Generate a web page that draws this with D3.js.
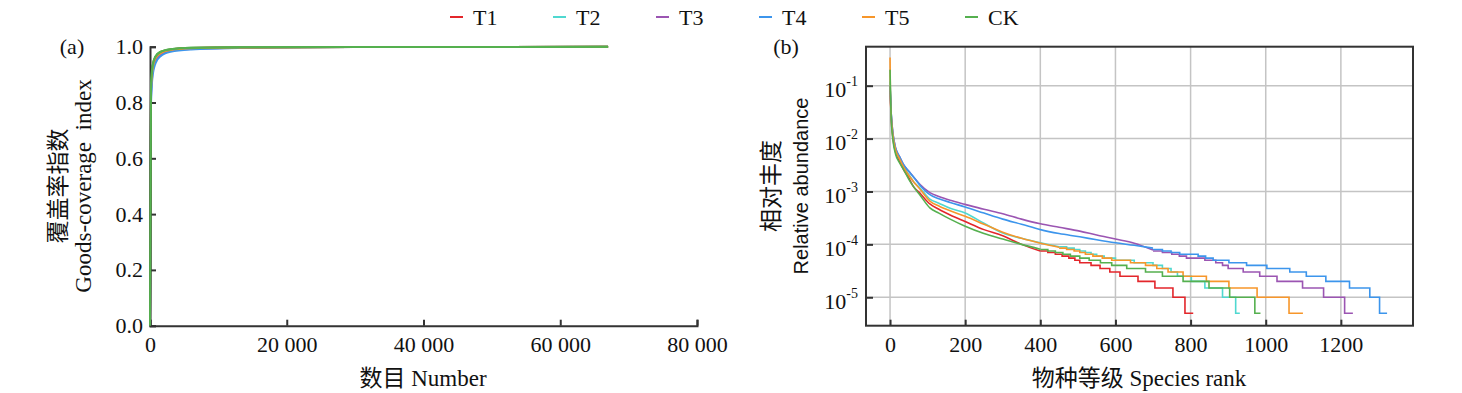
<!DOCTYPE html>
<html>
<head>
<meta charset="utf-8">
<script src="https://cdn.jsdelivr.net/npm/d3@7"></script>
<style>
  body { margin: 0; background: #fff; }
</style>
</head>
<body>
<svg id="chart" width="1462" height="393"></svg>
<script>
const groups = ["T1", "T2", "T3", "T4", "T5", "CK"];
const colors = ["#e3262b", "#4fd8d0", "#9b55b2", "#3c95ec", "#f7962a", "#55b04f"];

// (a) Goods coverage vs. number of sequences
const covN = [0, 150, 400, 800, 1500, 3000, 6000, 13000, 30000, 67000];
const covT1 = [0, 0.86, 0.93, 0.962, 0.979, 0.99, 0.995, 0.998, 0.999, 0.9995];
const covT2 = [0, 0.84, 0.92, 0.955, 0.974, 0.987, 0.993, 0.997, 0.999, 0.9995];
const covT3 = [0, 0.82, 0.91, 0.95, 0.97, 0.985, 0.992, 0.996, 0.999, 0.9995];
const covT4 = [0, 0.8, 0.9, 0.94, 0.965, 0.982, 0.99, 0.995];
const covT5 = [0, 0.85, 0.925, 0.958, 0.976, 0.988, 0.994, 0.997, 0.999, 0.9995];
const covCK = [0, 0.87, 0.935, 0.965, 0.981, 0.991, 0.996, 0.998, 0.999, 0.9995];
const coverage = [covT1, covT2, covT3, covT4, covT5, covCK];
const covTicksX = [0, 20000, 40000, 60000, 80000];
const covTicksY = [0, 0.2, 0.4, 0.6, 0.8, 1.0];

// (b) rank-abundance: smooth head, stepped tail  [rank, relative abundance]
const headT1 = [[0,0.1],[3,0.025],[8,0.0098],[15,0.0055],[25,0.0038],[36,0.0026],[50,0.0018],[62,0.00125],[80,0.00092],[106,0.00058],[130,0.00046],[160,0.00036],[200,0.00027],[250,0.00019],[300,0.000145],[350,0.0001],[400,0.000075]];
const tailT1 = [[400,7.5e-5],[420,7e-5],[440,6.5e-5],[458,6e-5],[476,5.5e-5],[492,5e-5],[505,4.5e-5],[535,4e-5],[559,3.5e-5],[585,3e-5],[612,2.5e-5],[660,2e-5],[705,1.5e-5],[753,1e-5],[785,5e-6],[807,5e-6]];
const headT2 = [[0,0.12],[3,0.03],[8,0.011],[15,0.006],[25,0.0042],[36,0.003],[50,0.0021],[62,0.00155],[80,0.00115],[106,0.00072],[130,0.0006],[160,0.00048],[200,0.00039],[250,0.00025],[300,0.000164],[350,0.00013],[400,0.000107],[450,0.00009]];
const tailT2 = [[450,9e-5],[470,8.5e-5],[490,8e-5],[505,7.5e-5],[520,7e-5],[535,6.5e-5],[550,6e-5],[570,5.5e-5],[600,5e-5],[650,4.5e-5],[700,4e-5],[725,3.5e-5],[748,3e-5],[765,2.5e-5],[802,2e-5],[838,1.5e-5],[885,1e-5],[920,5e-6],[931,5e-6]];
const headT3 = [[0,0.08],[3,0.03],[8,0.012],[15,0.0066],[25,0.0046],[36,0.0032],[50,0.0024],[62,0.0019],[80,0.00135],[106,0.00095],[130,0.0008],[160,0.00068],[200,0.00057],[250,0.00046],[300,0.00038],[350,0.0003],[400,0.000245],[450,0.00021],[505,0.000178],[550,0.00015],[600,0.000126],[650,0.000105],[700,0.000078]];
const tailT3 = [[700,7.5e-5],[725,7e-5],[750,6.5e-5],[770,6e-5],[789,5.5e-5],[838,5e-5],[867,4.5e-5],[885,4e-5],[900,3.5e-5],[940,3e-5],[984,2.5e-5],[1030,2e-5],[1098,1.5e-5],[1154,1e-5],[1210,5e-6],[1232,5e-6]];
const headT4 = [[0,0.1],[3,0.03],[8,0.012],[15,0.0066],[25,0.0046],[36,0.0032],[50,0.0024],[62,0.0019],[80,0.0013],[106,0.00087],[130,0.00073],[160,0.00062],[200,0.00051],[250,0.00039],[300,0.0003],[350,0.00024],[400,0.00019],[450,0.00016],[505,0.000139],[550,0.000122],[600,0.000107],[650,0.000096],[700,0.000085]];
const tailT4 = [[700,8e-5],[725,7.5e-5],[748,7e-5],[771,6.5e-5],[820,6e-5],[840,5.5e-5],[860,5e-5],[902,4.5e-5],[949,4e-5],[1003,3.5e-5],[1064,3e-5],[1108,2.5e-5],[1160,2e-5],[1223,1.5e-5],[1277,1e-5],[1303,5e-6],[1323,5e-6]];
const headT5 = [[0,0.34],[1,0.06],[3,0.028],[8,0.011],[15,0.006],[25,0.0042],[36,0.0029],[50,0.002],[62,0.00155],[80,0.0011],[106,0.00066],[130,0.00053],[160,0.00043],[200,0.00034],[250,0.00024],[300,0.00017],[350,0.00013],[400,0.000105],[450,0.000088]];
const tailT5 = [[450,8.5e-5],[470,8e-5],[490,7.5e-5],[505,7e-5],[520,6.5e-5],[540,6e-5],[565,5.5e-5],[590,5e-5],[640,4.5e-5],[680,4e-5],[710,3.5e-5],[740,3e-5],[780,2.5e-5],[842,2e-5],[902,1.5e-5],[977,1e-5],[1062,5e-6],[1099,5e-6]];
const headCK = [[0,0.2],[3,0.025],[8,0.009],[15,0.005],[25,0.0035],[36,0.0026],[50,0.0017],[62,0.00125],[80,0.00085],[106,0.00049],[130,0.00039],[160,0.0003],[200,0.00022],[250,0.00016],[300,0.000126],[350,0.0001],[400,0.000081]];
const tailCK = [[400,8e-5],[420,7.5e-5],[440,7e-5],[460,6.5e-5],[480,6e-5],[505,5.5e-5],[530,5e-5],[560,4.5e-5],[590,4e-5],[630,3.5e-5],[680,3e-5],[725,2.5e-5],[780,2e-5],[849,1.5e-5],[904,1e-5],[971,5e-6],[986,5e-6]];
const heads = [headT1, headT2, headT3, headT4, headT5, headCK];
const tails = [tailT1, tailT2, tailT3, tailT4, tailT5, tailCK];
const rankTicks = [0, 200, 400, 600, 800, 1000, 1200];
const abTicks = [1e-1, 1e-2, 1e-3, 1e-4, 1e-5];

const svg = d3.select("#chart");
const AXIS = "#333";
const FS = 22;
const SERIF = '"Liberation Serif", "Times New Roman", "Noto Sans CJK SC", serif';
const SANS = '"Liberation Sans", Arial, sans-serif';

function label(sel, x, y, txt, size, opts = {}) {
	const t = sel.append("text")
		.attr("transform", `translate(${x}, ${y})` + (opts.rotate ? " rotate(-90)" : ""))
		.attr("text-anchor", opts.anchor || "middle")
		.style("font-family", opts.family || SERIF)
		.style("font-size", size + "px")
		.style("fill", "#111")
		.style("white-space", "pre")
		.text(txt);
	return t;
}
function styleAxis(ax) {
	ax.selectAll(".domain").attr("stroke", AXIS).attr("stroke-width", 2);
	ax.selectAll(".tick line").attr("stroke", AXIS).attr("stroke-width", 2);
	ax.selectAll("text").style("font-family", SERIF).style("font-size", FS + "px").style("fill", "#111");
}

// ---------- panel (a) ----------
const xa = d3.scaleLinear().domain([0, 80000]).range([150, 697]);
const ya = d3.scaleLinear().domain([0, 1]).range([325.7, 46.7]);
const ga = svg.append("g");

const lineA = d3.line().x(d => xa(d[0])).y(d => ya(d[1])).curve(d3.curveMonotoneX);
coverage.forEach((vals, i) => {
	ga.append("path")
		.datum(vals.map((v, j) => [covN[j], v]))
		.attr("fill", "none")
		.attr("stroke", colors[i])
		.attr("stroke-width", 2)
		.attr("d", lineA);
});

const axA_x = ga.append("g")
	.attr("transform", `translate(0, ${ya(0)})`)
	.call(d3.axisBottom(xa).tickValues(covTicksX).tickSize(-6).tickPadding(11)
		.tickFormat(d => d === 0 ? "0" : d3.format(",")(d).replace(",", " ")));
const axA_y = ga.append("g")
	.attr("transform", `translate(${xa(0)}, 0)`)
	.call(d3.axisLeft(ya).tickValues(covTicksY).tickSize(-6).tickPadding(7).tickFormat(d3.format(".1f")));
styleAxis(axA_x);
styleAxis(axA_y);
// green curve sits over the y axis in the original
ga.append("path")
	.datum(covCK.map((v, j) => [covN[j], v]))
	.attr("fill", "none").attr("stroke", colors[5]).attr("stroke-width", 2).attr("d", lineA);

label(ga, 72, 54, "(a)", FS);
label(ga, 423, 386, "数目 Number", 23);
label(ga, 66, 186, "覆盖率指数", 23, { rotate: true });
label(ga, 91, 186, "Goods-coverage  index", 23, { rotate: true });

// ---------- panel (b) ----------
const xb = d3.scaleLinear().domain([-64, 1392]).range([866, 1413]);
const yb = d3.scaleLog().domain([2.9e-6, 0.546]).range([325.7, 46.7]);
const gb = svg.append("g");

gb.append("g").selectAll("line").data(rankTicks).join("line")
	.attr("x1", d => xb(d)).attr("x2", d => xb(d)).attr("y1", yb.range()[1]).attr("y2", yb.range()[0])
	.attr("stroke", "#c4c4c4").attr("stroke-width", 1.5);
gb.append("g").selectAll("line").data(abTicks).join("line")
	.attr("x1", xb.range()[0]).attr("x2", xb.range()[1]).attr("y1", d => yb(d)).attr("y2", d => yb(d))
	.attr("stroke", "#c4c4c4").attr("stroke-width", 1.5);

const lineHead = d3.line().x(d => xb(d[0])).y(d => yb(d[1])).curve(d3.curveMonotoneX);
const lineTail = d3.line().x(d => xb(d[0])).y(d => yb(d[1])).curve(d3.curveStepAfter);
groups.forEach((g, i) => {
	gb.append("path").datum(heads[i]).attr("fill", "none").attr("stroke", colors[i])
		.attr("stroke-width", 1.6).attr("d", lineHead);
	gb.append("path").datum(tails[i]).attr("fill", "none").attr("stroke", colors[i])
		.attr("stroke-width", 1.6).attr("d", lineTail);
});

const axB_x = gb.append("g")
	.attr("transform", `translate(0, ${yb.range()[0]})`)
	.call(d3.axisBottom(xb).tickValues(rankTicks).tickSize(-6).tickPadding(11).tickFormat(d3.format("d")));
const axB_y = gb.append("g")
	.attr("transform", `translate(${xb.range()[0]}, 0)`)
	.call(d3.axisLeft(yb).tickValues(abTicks).tickSize(-7).tickPadding(8).tickFormat(""));
styleAxis(axB_x);
styleAxis(axB_y);
axB_x.select(".domain").remove();
axB_y.select(".domain").remove();
// power-of-ten labels with superscript
axB_y.selectAll(".tick").append("text")
	.attr("x", -8).attr("dy", "0.5em").attr("text-anchor", "end")
	.style("font-family", SERIF).style("font-size", FS + "px").style("fill", "#111")
	.each(function (d) {
		const t = d3.select(this);
		t.append("tspan").text("10");
		t.append("tspan").style("font-size", "14px").attr("dy", "-0.8em").text(Math.round(Math.log10(d)));
	});
gb.append("rect")
	.attr("x", xb.range()[0]).attr("y", yb.range()[1])
	.attr("width", xb.range()[1] - xb.range()[0]).attr("height", yb.range()[0] - yb.range()[1])
	.attr("fill", "none").attr("stroke", AXIS).attr("stroke-width", 2);

label(gb, 786, 54, "(b)", FS);
label(gb, 1139, 386, "物种等级 Species rank", 23);
label(gb, 779, 186, "相对丰度", 23, { rotate: true });
label(gb, 808, 186, "Relative abundance", 20, { rotate: true, family: SANS });

// ---------- legend ----------
const legend = svg.append("g").selectAll("g").data(groups).join("g")
	.attr("transform", (d, i) => `translate(${450 + i * 103}, 17)`);
legend.append("line").attr("x1", 0).attr("x2", 13).attr("stroke", (d, i) => colors[i]).attr("stroke-width", 2);
legend.append("text").attr("x", 23).attr("dy", "0.35em")
	.style("font-family", SERIF).style("font-size", FS + "px").style("fill", "#111").text(d => d);
</script>
</body>
</html>
